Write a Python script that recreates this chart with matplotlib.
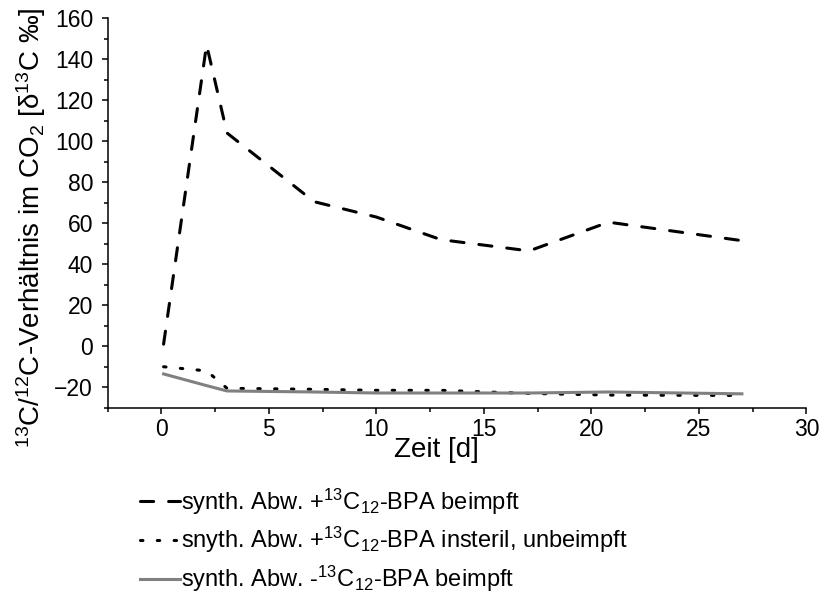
import matplotlib
matplotlib.use('Agg')
import matplotlib.pyplot as plt
from matplotlib.ticker import MultipleLocator

plt.rcParams['font.family'] = ['Liberation Sans', 'DejaVu Sans']
plt.rcParams['mathtext.fontset'] = 'custom'
plt.rcParams['mathtext.rm'] = 'Liberation Sans'
plt.rcParams['mathtext.it'] = 'Liberation Sans'
FS = 16.5
FS_LABEL = 20
FS_LEG = 17
plt.rcParams['font.size'] = FS

# days of sampling
days = [0.1, 2.1, 3.05, 7.1, 10.0, 13.0, 17.1, 20.8, 27.0]

# delta 13C values per series
beimpft = [1, 147, 104, 70.5, 63, 52, 46.5, 60.5, 51.5]
unbeimpft = [-10, -12, -20.5, -21, -21.5, -21.5, -23, -23.8, -24]
ohne_bpa = [-13.5, -19.2, -21.8, -22.3, -22.8, -22.8, -22.8, -22.3, -23.2]

labels = [
    r'synth. Abw. +$^{13}$C$_{12}$-BPA beimpft',
    r'snyth. Abw. +$^{13}$C$_{12}$-BPA insteril, unbeimpft',
    r'synth. Abw. -$^{13}$C$_{12}$-BPA beimpft',
]

fig = plt.figure(figsize=(8.22, 6.05), dpi=100)
ax = fig.add_axes([0.131, 0.326, 0.85, 0.644])

lw = 2.2
l1, = ax.plot(days, beimpft, color='black', lw=lw, dashes=(4.3, 4.9),
              dash_capstyle='round', label=labels[0])
l2, = ax.plot(days, unbeimpft, color='black', lw=lw, dashes=(0.8, 4.7),
              dash_capstyle='round', label=labels[1])
l3, = ax.plot(days, ohne_bpa, color='#808080', lw=lw, label=labels[2])

ax.set_xlim(-2.5, 30)
ax.set_ylim(-30, 160)
ax.xaxis.set_major_locator(MultipleLocator(5))
ax.xaxis.set_minor_locator(MultipleLocator(2.5))
ax.yaxis.set_major_locator(MultipleLocator(20))
ax.yaxis.set_minor_locator(MultipleLocator(10))

ax.spines['top'].set_visible(False)
ax.spines['right'].set_visible(False)
for s in ('left', 'bottom'):
    ax.spines[s].set_linewidth(1.1)
ax.tick_params(which='major', direction='out', length=4.5, width=1.1, labelsize=FS)
ax.tick_params(axis='x', which='major', pad=3)
ax.tick_params(axis='y', which='major', pad=6)
ax.tick_params(which='minor', direction='out', length=2.8, width=1.1)

ax.set_xlabel('Zeit [d]', fontsize=FS_LABEL)
ax.xaxis.set_label_coords(0.471, -0.075, transform=ax.transAxes)
ax.xaxis.label.set_va('top')
ax.set_ylabel(r'$^{13}$C/$^{12}$C-Verhältnis im CO$_2$ [δ$^{13}$C ‰]', fontsize=FS_LABEL)
ax.yaxis.set_label_coords(-0.110, 0.462, transform=ax.transAxes)
ax.yaxis.label.set_va('center')

leg = fig.legend(handles=[l1, l2, l3], loc='upper left', bbox_to_anchor=(0.159, 0.2115),
                 frameon=False, handlelength=1.7, handletextpad=0.05,
                 labelspacing=0.36, fontsize=FS_LEG, borderaxespad=0)

fig.savefig('out.png', dpi=100)
